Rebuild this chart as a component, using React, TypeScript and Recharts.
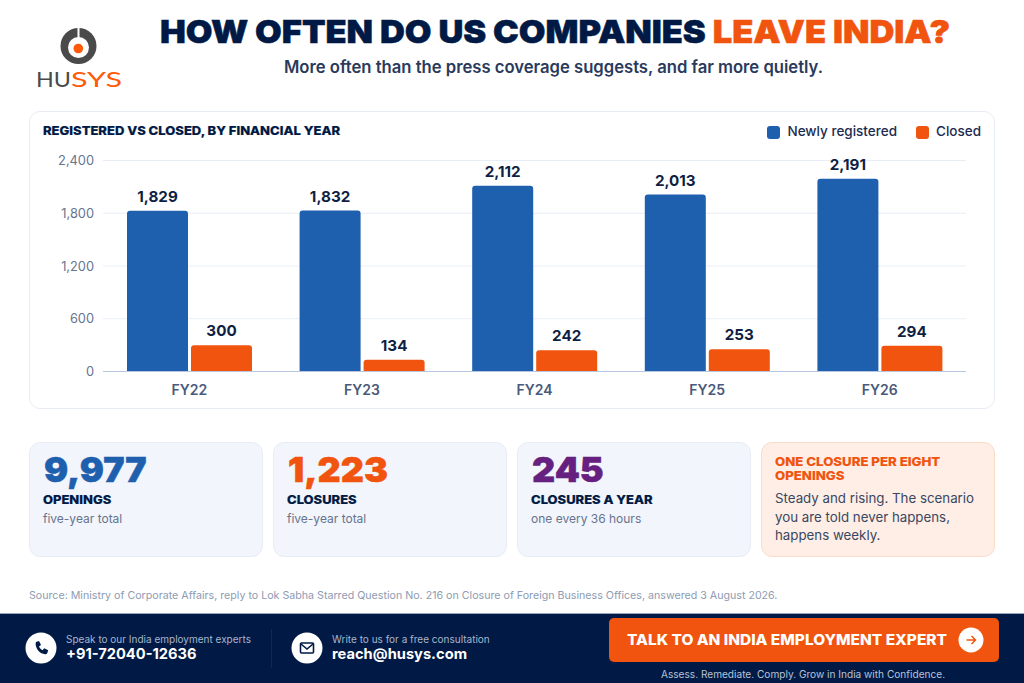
import { Bar, BarChart, CartesianGrid, LabelList, Legend, XAxis, YAxis } from "recharts";

const years = ["FY22", "FY23", "FY24", "FY25", "FY26"];
const registered = [1829, 1832, 2112, 2013, 2191];
const closed = [300, 134, 242, 253, 294];
const yTicks = [0, 600, 1200, 1800, 2400];

const data = years.map((name, i) => ({ name, registered: registered[i], closed: closed[i] }));

const navy = "#001a45";
const blue = "#1f60ae";
const orange = "#f0540e";
const purple = "#66207f";
const font = "Inter, sans-serif";

const at = (left: number, top: number, extra: any = {}) => ({
  position: "absolute" as const,
  left,
  top,
  whiteSpace: "nowrap" as const,
  ...extra,
});

// the reference headings are set in a wider face than Inter, so stretch them
const wide = (k: number, stroke = 0) => ({
  transform: `scaleX(${k})`,
  transformOrigin: "left center",
  WebkitTextStroke: stroke ? `${stroke}px currentColor` : undefined,
});

const LegendRow = () => (
  <div style={{ display: "flex", justifyContent: "flex-end", fontFamily: font, fontSize: 13.5, fontWeight: 500, color: "#1c2b50" }}>
    <span style={{ width: 13, height: 13, borderRadius: 3, background: blue, marginTop: 3, marginRight: 7 }} />
    <span style={{ marginRight: 19 }}>Newly registered</span>
    <span style={{ width: 13, height: 13, borderRadius: 3, background: orange, marginTop: 3, marginRight: 7 }} />
    <span>Closed</span>
  </div>
);

const Logo = () => (
  <svg width={100} height={70} style={at(30, 22)}>
    <circle cx={48.5} cy={24} r={18} fill="#4a4a4a" />
    <circle cx={48.5} cy={25.5} r={10.5} fill="#fff" />
    <rect x={47.5} y={5} width={2} height={13} fill="#fff" />
    <circle cx={48.3} cy={26.5} r={4.8} fill="#ff5a0a" />
    <text x={6} y={65} fontFamily="Lato, sans-serif" fontSize={21} fill="#4a4a4a" textLength={35} lengthAdjust="spacingAndGlyphs">HU</text>
    <text x={41} y={65} fontFamily="Lato, sans-serif" fontSize={21} fill="#ff5a0a" textLength={51} lengthAdjust="spacingAndGlyphs">SYS</text>
  </svg>
);

const KpiCard = ({ left, value, color, label, note }: any) => (
  <div style={at(left, 442, { width: 234, height: 115, boxSizing: "border-box", background: "#f2f5fb", border: "1px solid #e7edf7", borderRadius: 11 })}>
    <div style={at(14, 8, { fontSize: 34, fontWeight: 900, color, lineHeight: "38px", ...wide(1.055, 0.5) })}>{value}</div>
    <div style={at(13, 48, { fontSize: 12, fontWeight: 800, color: navy, lineHeight: "18px", ...wide(1.08, 0.2) })}>{label}</div>
    <div style={at(13, 67, { fontSize: 12, color: "#66748f", lineHeight: "18px" })}>{note}</div>
  </div>
);

const ContactIcon = ({ left, kind }: any) => (
  <svg width={32} height={32} viewBox="0 0 32 32" style={at(left, 632)}>
    <circle cx={16} cy={16} r={15.5} fill="#fff" />
    {kind === "phone" ? (
      <path d="M11 10 l3 -1 l2 4 l-2 1.5 c0.8 1.8 2 3 3.6 3.8 l1.6 -2 l4 2 l-1 3 c-0.4 0.8 -1.2 1 -2.2 1 c-5 -0.6 -9 -5 -9.4 -10 c0 -1 0.2 -1.9 0.4 -2.3 z" fill={navy} />
    ) : (
      <g fill="none" stroke={navy} strokeWidth={1.6}>
        <rect x={9.5} y={11} width={13} height={10} rx={1} />
        <path d="M10 12 l6 5 l6 -5" />
      </g>
    )}
  </svg>
);

export default function App() {
  return (
    <div style={{ position: "absolute", left: 0, top: 0, width: 1024, height: 683, overflow: "hidden", background: "#fff", fontFamily: font }}>
      <Logo />
      <div style={at(160, 12, { fontSize: 32, fontWeight: 900, lineHeight: "40px", color: navy, ...wide(1.076, 0.5) })}>
        HOW OFTEN DO US COMPANIES <span style={{ color: orange }}>LEAVE INDIA?</span>
      </div>
      <div style={at(284, 56, { fontSize: 16.65, fontWeight: 600, lineHeight: "22px", color: "#2a3a5c" })}>
        More often than the press coverage suggests, and far more quietly.
      </div>

      <div style={at(29, 111, { width: 966, height: 298, boxSizing: "border-box", border: "1px solid #e8edf6", borderRadius: 11 })} />
      <div style={at(43, 123, { fontSize: 12, fontWeight: 800, lineHeight: "16px", color: navy, ...wide(1.084, 0.2) })}>
        REGISTERED VS CLOSED, BY FINANCIAL YEAR
      </div>
      <div style={at(29, 111)}>
        <BarChart width={966} height={298} data={data} barSize={61} barGap={3} margin={{ top: 33.5, right: 29, left: 0, bottom: 7.5 }}>
          <CartesianGrid stroke="#e8eef8" vertical={false} />
          <XAxis
            dataKey="name"
            axisLine={{ stroke: "#b9c6df" }}
            tickLine={false}
            tickMargin={7.5}
            tick={{ fontSize: 14, fontWeight: 600, fill: "#4a5a7a", fontFamily: font }}
          />
          <YAxis
            width={74}
            domain={[0, 2400]}
            ticks={yTicks}
            axisLine={false}
            tickLine={false}
            tickMargin={3}
            tick={{ fontSize: 12.8, fill: "#66748f", fontFamily: font }}
            tickFormatter={(v: number) => v.toLocaleString("en-US")}
          />
          <Legend verticalAlign="top" align="right" content={<LegendRow />} wrapperStyle={{ top: 12, right: 14, width: 300, left: "auto" }} />
          <Bar dataKey="registered" name="Newly registered" fill={blue} radius={[3, 3, 0, 0]} isAnimationActive={false}>
            <LabelList dataKey="registered" position="top" offset={8.5} formatter={(v: any) => Number(v).toLocaleString("en-US")} style={{ fontSize: 15.2, fontWeight: 700, fill: "#0f1f44", fontFamily: font }} />
          </Bar>
          <Bar dataKey="closed" name="Closed" fill={orange} radius={[3, 3, 0, 0]} isAnimationActive={false}>
            <LabelList dataKey="closed" position="top" offset={9} style={{ fontSize: 15.2, fontWeight: 700, fill: "#0f1f44", fontFamily: font }} />
          </Bar>
        </BarChart>
      </div>

      <KpiCard left={29} value="9,977" color={blue} label="OPENINGS" note="five-year total" />
      <KpiCard left={273} value="1,223" color={orange} label="CLOSURES" note="five-year total" />
      <KpiCard left={517} value="245" color={purple} label="CLOSURES A YEAR" note="one every 36 hours" />
      <div style={at(761, 442, { width: 234, height: 115, boxSizing: "border-box", background: "#feeee6", border: "1px solid #fbdccb", borderRadius: 11 })}>
        <div style={at(13, 12, { fontSize: 12, fontWeight: 800, lineHeight: "14px", color: orange, ...wide(1.1, 0.1) })}>
          ONE CLOSURE PER EIGHT
          <br />
          OPENINGS
        </div>
        <div style={at(13, 46, { fontSize: 13.3, lineHeight: "18.5px", color: "#3a4760" })}>
          Steady and rising. The scenario
          <br />
          you are told never happens,
          <br />
          happens weekly.
        </div>
      </div>

      <div style={at(29, 588, { fontSize: 10.66, lineHeight: "16px", color: "#8e9bb3" })}>
        Source: Ministry of Corporate Affairs, reply to Lok Sabha Starred Question No. 216 on Closure of Foreign Business Offices, answered 3 August 2026.
      </div>

      <div style={at(0, 613, { width: 1024, height: 70, background: navy, borderTop: "1px solid #9aa6bc", boxSizing: "border-box" })} />
      <ContactIcon left={25} kind="phone" />
      <div style={at(66, 631, { fontSize: 10, lineHeight: "16px", color: "#a9b5cc" })}>Speak to our India employment experts</div>
      <div style={at(66, 644, { fontSize: 14.66, fontWeight: 700, lineHeight: "20px", color: "#fff" })}>+91-72040-12636</div>
      <div style={at(271, 629, { width: 1, height: 39, background: "#12294f" })} />
      <ContactIcon left={291} kind="mail" />
      <div style={at(332, 631, { fontSize: 10, lineHeight: "16px", color: "#a9b5cc" })}>Write to us for a free consultation</div>
      <div style={at(332, 644, { fontSize: 14.66, fontWeight: 700, lineHeight: "20px", color: "#fff" })}>reach@husys.com</div>

      <div style={at(609, 618, { width: 390, height: 44, background: orange, borderRadius: 5 })} />
      <div style={at(627, 630, { fontSize: 14.5, fontWeight: 800, lineHeight: "20px", color: "#fff", ...wide(1.065) })}>TALK TO AN INDIA EMPLOYMENT EXPERT</div>
      <svg width={26} height={26} viewBox="0 0 26 26" style={at(958, 627)}>
        <circle cx={13} cy={13} r={12.5} fill="#fff" />
        <path d="M8.5 13 h9 M13.5 9 l4 4 l-4 4" fill="none" stroke={orange} strokeWidth={1.5} />
      </svg>
      <div style={at(661, 666, { fontSize: 10.1, lineHeight: "16px", color: "#b8c2d6" })}>
        Assess. Remediate. Comply. Grow in India with Confidence.
      </div>
    </div>
  );
}
